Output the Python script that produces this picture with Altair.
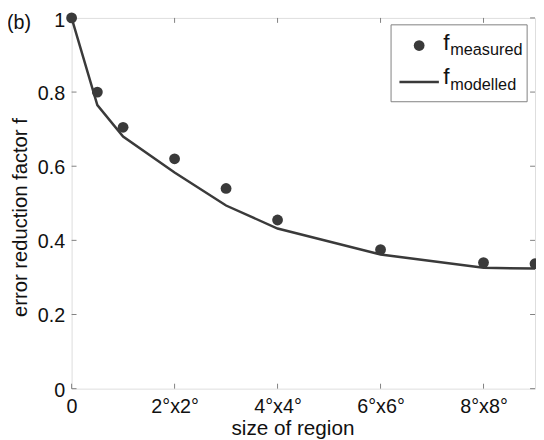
import altair as alt
import pandas as pd

# ---- data ----
x_region = [0, 0.5, 1, 2, 3, 4, 6, 8, 9]
f_measured = [1.0, 0.80, 0.705, 0.62, 0.54, 0.455, 0.375, 0.34, 0.337]
f_modelled = [1.0, 0.765, 0.68, 0.583, 0.494, 0.432, 0.362, 0.326, 0.324]
x_ticks = [0, 2, 4, 6, 8]
y_ticks = [0, 0.2, 0.4, 0.6, 0.8, 1.0]
legend_main = ["f", "f"]
legend_sub = ["measured", "modelled"]
panel_label = "(b)"

W, H = 470, 376
FONT = "Liberation Sans"
DARK = "#3a3a3a"
FRAME = "#808080"
TXT = "#111111"

df = pd.DataFrame({"x": x_region, "meas": f_measured, "mod": f_modelled})
xt = pd.DataFrame({"t": x_ticks})
yt = pd.DataFrame({"t": y_ticks})
one = pd.DataFrame({"a": [0]})

xscale = alt.Scale(domain=[0, 9], nice=False, zero=False)
yscale = alt.Scale(domain=[0, 1], nice=False)

x_axis = alt.Axis(
    values=x_ticks,
    labelExpr="datum.value == 0 ? '0' : datum.value + '°x' + datum.value + '°'",
    ticks=False, domain=False, grid=False,
    labelFont=FONT, labelFontSize=20, labelPadding=8, labelColor=TXT,
    labelFlush=False, labelOverlap=False,
    title="size of region", titleFont=FONT, titleFontSize=21,
    titleFontWeight="normal", titleColor=TXT,
    titleX=224, titleY=47, titleAlign="center", titleBaseline="alphabetic",
)
y_axis = alt.Axis(
    values=y_ticks,
    labelExpr="datum.value == 0 ? '0' : datum.value == 1 ? '1' : format(datum.value, '.1f')",
    ticks=False, domain=False, grid=False,
    labelFont=FONT, labelFontSize=20, labelPadding=7, labelColor=TXT,
    labelFlush=False, labelOverlap=False,
    labelOffset={"condition": {"test": "datum.value == 1", "value": 3}, "value": 1.5},
    title="error reduction factor f", titleFont=FONT, titleFontSize=20.5,
    titleFontWeight="normal", titleColor=TXT,
    titleX=-46, titleY=202, titleAngle=270, titleAlign="center",
    titleBaseline="alphabetic",
)

X = lambda f: alt.X(f, scale=xscale, axis=x_axis)
Y = lambda f: alt.Y(f, scale=yscale, axis=y_axis)

line = alt.Chart(df).mark_line(color=DARK, strokeWidth=2.5).encode(
    x=X("x:Q"), y=Y("mod:Q"))
pts = alt.Chart(df).mark_circle(size=120, color=DARK, opacity=1).encode(
    x=X("x:Q"), y=Y("meas:Q"))

# inward ticks on all four sides
tick_l = alt.Chart(yt).mark_rule(color=FRAME, strokeWidth=1).encode(
    y=Y("t:Q"), x=alt.value(0), x2=alt.value(5))
tick_r = alt.Chart(yt).mark_rule(color=FRAME, strokeWidth=1).encode(
    y=Y("t:Q"), x=alt.value(W - 5), x2=alt.value(W))
tick_b = alt.Chart(xt).mark_rule(color=FRAME, strokeWidth=1).encode(
    x=X("t:Q"), y=alt.value(H - 5), y2=alt.value(H))
tick_t = alt.Chart(xt).mark_rule(color=FRAME, strokeWidth=1).encode(
    x=X("t:Q"), y=alt.value(0), y2=alt.value(5))

# legend box
leg_box = alt.Chart(one).mark_rect(fill="white", stroke=FRAME, strokeWidth=1).encode(
    x=alt.value(324), x2=alt.value(462), y=alt.value(7), y2=alt.value(85))
leg_dot = alt.Chart(one).mark_circle(size=120, color=DARK, opacity=1).encode(
    x=alt.value(352.5), y=alt.value(28))
leg_line = alt.Chart(one).mark_rule(color=DARK, strokeWidth=2.5).encode(
    x=alt.value(332.5), x2=alt.value(372.5), y=alt.value(65))
leg_f1 = alt.Chart(one).mark_text(align="left", baseline="alphabetic", font=FONT,
                                  fontSize=23, color=TXT).encode(
    x=alt.value(377), y=alt.value(33), text=alt.value(legend_main[0]))
leg_s1 = alt.Chart(one).mark_text(align="left", baseline="alphabetic", font=FONT,
                                  fontSize=16.5, color=TXT).encode(
    x=alt.value(384), y=alt.value(38), text=alt.value(legend_sub[0]))
leg_f2 = alt.Chart(one).mark_text(align="left", baseline="alphabetic", font=FONT,
                                  fontSize=23, color=TXT).encode(
    x=alt.value(377), y=alt.value(67), text=alt.value(legend_main[1]))
leg_s2 = alt.Chart(one).mark_text(align="left", baseline="alphabetic", font=FONT,
                                  fontSize=16.5, color=TXT).encode(
    x=alt.value(384), y=alt.value(73), text=alt.value(legend_sub[1]))

lab = alt.Chart(one).mark_text(align="left", baseline="alphabetic", font=FONT,
                               fontSize=20, color=TXT).encode(
    x=alt.value(-65.5), y=alt.value(11), text=alt.value(panel_label))

chart = alt.layer(
    tick_l, tick_r, tick_b, tick_t, line, pts,
    leg_box, leg_dot, leg_line, leg_f1, leg_s1, leg_f2, leg_s2, lab,
).properties(
    width=W, height=H,
    padding={"left": 64.5, "top": 7, "right": 1, "bottom": 49},
    autosize="none",
).configure_view(stroke=FRAME, strokeWidth=1).configure(background="white")

chart.save("out.html", embed_options={"renderer": "svg", "actions": False})
